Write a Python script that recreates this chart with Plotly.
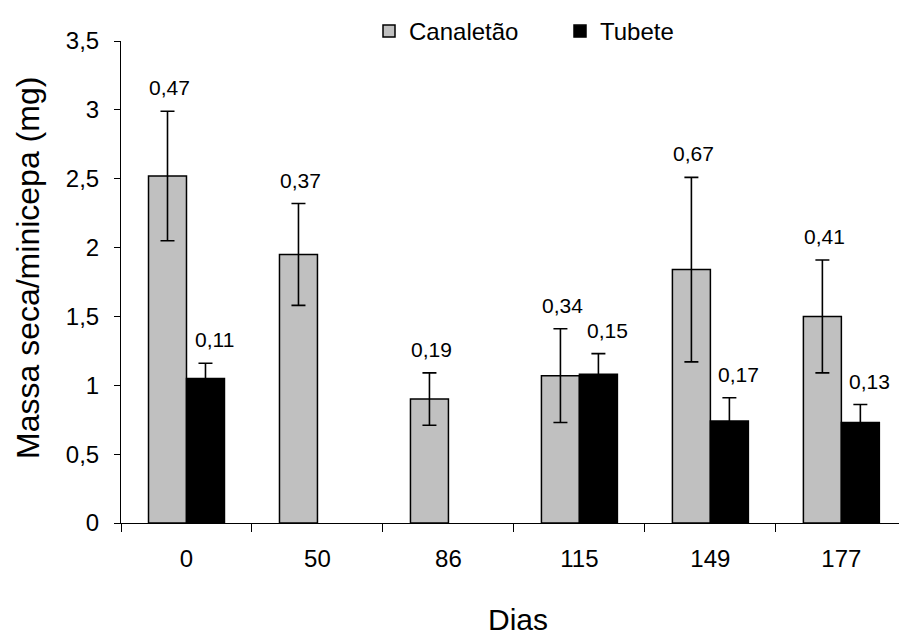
import plotly.graph_objects as go

# Collection days (x categories)
dias = ["0", "50", "86", "115", "149", "177"]

# Dry mass per mini-stump (mg), mean values
canaletao = [2.52, 1.95, 0.90, 1.07, 1.84, 1.50]
tubete = [1.05, None, None, 1.08, 0.74, 0.73]

# Standard deviations (also printed above each bar)
canaletao_sd = [0.47, 0.37, 0.19, 0.34, 0.67, 0.41]
tubete_sd = [0.11, None, None, 0.15, 0.17, 0.13]

FONT = "Liberation Sans, Arial, sans-serif"
W, H = 899, 639
ML, MR, MT, MB = 121, 0, 41, 116

fig = go.Figure()

fig.add_trace(go.Bar(
    name="Canaletão", x=dias, y=canaletao,
    marker=dict(color="#C0C0C0", line=dict(color="black", width=1.5)),
    error_y=dict(type="data", array=canaletao_sd, visible=True,
                 color="black", thickness=1.6, width=7),
))
fig.add_trace(go.Bar(
    name="Tubete", x=dias, y=tubete,
    marker=dict(color="black", line=dict(color="black", width=1.5)),
    error_y=dict(type="data", array=tubete_sd, visible=True,
                 color="black", thickness=1.6, width=7),
))

# Value labels above the error bars
annotations = []
offsets = {0: (-0.145, 2), 1: (0.145, 9)}
for k, (vals, sds) in enumerate([(canaletao, canaletao_sd), (tubete, tubete_sd)]):
    dx, xs = offsets[k]
    for j, (v, s) in enumerate(zip(vals, sds)):
        if v is None:
            continue
        annotations.append(dict(
            x=j + dx, y=v + s, xref="x", yref="y",
            text=f"{s:.2f}".replace(".", ","),
            showarrow=False, yanchor="bottom", xanchor="center",
            yshift=10, xshift=xs,
            font=dict(family=FONT, size=21, color="black"),
        ))

# Axis titles
pw = W - ML - MR
ph = H - MT - MB
def px_to_paper_x(px):
    return (px - ML) / pw
def px_to_paper_y(py):
    return (H - MB - py) / ph

annotations.append(dict(
    x=px_to_paper_x(28), y=px_to_paper_y(268), xref="paper", yref="paper",
    text="Massa seca/minicepa (mg)", textangle=-90, showarrow=False,
    xanchor="center", yanchor="middle",
    font=dict(family=FONT, size=32, color="black"),
))
annotations.append(dict(
    x=px_to_paper_x(518), y=px_to_paper_y(619), xref="paper", yref="paper",
    text="Dias", showarrow=False, xanchor="center", yanchor="middle",
    font=dict(family=FONT, size=30, color="black"),
))

fig.update_layout(
    width=W, height=H,
    margin=dict(l=ML, r=MR, t=MT, b=MB, autoexpand=False),
    paper_bgcolor="white", plot_bgcolor="white",
    separators=", ",
    barmode="group", bargap=0.42, bargroupgap=0,
    font=dict(family=FONT, color="black"),
    showlegend=True,
    legend=dict(
        orientation="h", xref="container", yref="container",
        x=369 / W, y=1 - 9 / H, xanchor="left", yanchor="top",
        font=dict(family=FONT, size=24, color="black"),
        bgcolor="rgba(0,0,0,0)", entrywidth=146, entrywidthmode="pixels",
        traceorder="normal",
    ),
    annotations=annotations,
)

fig.update_xaxes(
    type="category", categoryorder="array", categoryarray=dias,
    range=[-0.5, 5.44], tickson="boundaries",
    ticks="outside", ticklen=8, tickcolor="black", tickwidth=1,
    showline=True, linecolor="black", linewidth=1,
    showgrid=False, zeroline=False,
    tickfont=dict(family=FONT, size=24, color="black"),
    ticklabelstandoff=14,
)
fig.update_yaxes(
    range=[0, 3.5], dtick=0.5, tick0=0,
    ticks="outside", ticklen=6, tickcolor="black", tickwidth=1,
    showline=True, linecolor="black", linewidth=1,
    showgrid=False, zeroline=False,
    tickfont=dict(family=FONT, size=24, color="black"),
    ticklabelstandoff=10,
)

fig.write_html("out.html")
